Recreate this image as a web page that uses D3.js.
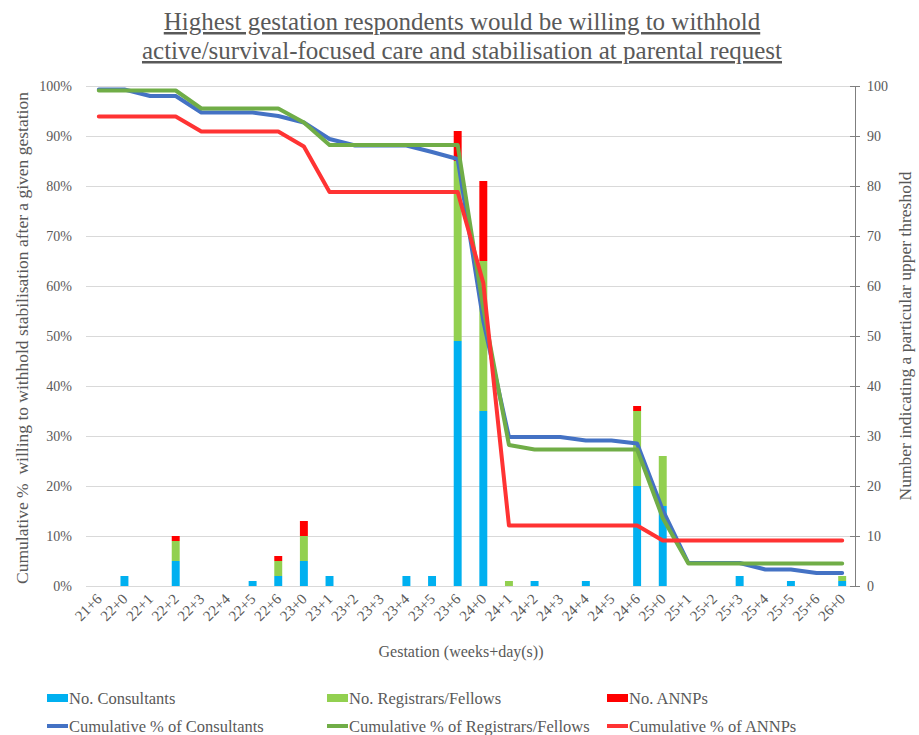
<!DOCTYPE html>
<html>
<head>
<meta charset="utf-8">
<script src="https://cdn.jsdelivr.net/npm/d3@7"></script>
<style>
  body { margin: 0; background: #fff; }
  svg text { font-family: "Liberation Serif", "Times New Roman", Times, serif; fill: #595959; }
</style>
</head>
<body>
<div id="chart"></div>
<script>
// gestation categories
var gestations = ["21+6","22+0","22+1","22+2","22+3","22+4","22+5","22+6",
  "23+0","23+1","23+2","23+3","23+4","23+5","23+6",
  "24+0","24+1","24+2","24+3","24+4","24+5","24+6",
  "25+0","25+1","25+2","25+3","25+4","25+5","25+6","26+0"];

// counts (right axis)
var noConsultants = [0,2,0,5,0,0,1,2,5,2,0,0,2,2,49,35,0,1,0,1,0,20,16,0,0,2,0,1,0,1];
var noRegistrars  = [0,0,0,4,0,0,0,3,5,0,0,0,0,0,36,30,1,0,0,0,0,15,10,0,0,0,0,0,0,1];
var noANNPs       = [0,0,0,1,0,0,0,1,3,0,0,0,0,0,6,16,0,0,0,0,0,1,0,0,0,0,0,0,0,0];

// cumulative % (left axis)
var cumConsultants = [99.3,99.3,98.0,98.0,94.7,94.7,94.7,94.0,92.7,89.4,88.1,88.1,88.1,86.8,85.4,
  53.0,29.8,29.8,29.8,29.1,29.1,28.5,15.2,4.6,4.6,4.6,3.3,3.3,2.6,2.6];
var cumRegistrars = [99.1,99.1,99.1,99.1,95.5,95.5,95.5,95.5,92.7,88.2,88.2,88.2,88.2,88.2,88.2,
  55.5,28.2,27.3,27.3,27.3,27.3,27.3,13.6,4.5,4.5,4.5,4.5,4.5,4.5,4.5];
var cumANNPs = [93.9,93.9,93.9,93.9,90.9,90.9,90.9,90.9,87.9,78.8,78.8,78.8,78.8,78.8,78.8,
  60.6,12.1,12.1,12.1,12.1,12.1,12.1,9.1,9.1,9.1,9.1,9.1,9.1,9.1,9.1];

var pctTicks = [0,10,20,30,40,50,60,70,80,90,100];
var numTicks = [0,10,20,30,40,50,60,70,80,90,100];

var W = 919, H = 735;
var mLeft = 86, mRight = 855, mTop = 86, mBottom = 586;

var svg = d3.select("#chart").append("svg")
    .attr("width", W)
    .attr("height", H);

var x = d3.scaleBand().domain(gestations).range([mLeft, mRight]).paddingInner(0.69).paddingOuter(0.345);
var xc = d3.scaleBand().domain(gestations).range([mLeft, mRight]);
var yPct = d3.scaleLinear().domain([0, 100]).range([mBottom, mTop]);
var yNum = d3.scaleLinear().domain([0, 100]).range([mBottom, mTop]);

// title
var title = svg.append("text")
    .attr("x", 462)
    .attr("text-anchor", "middle")
    .style("font-size", "25px")
    .style("text-decoration", "underline");
title.append("tspan").attr("x", 462).attr("y", 30).text("Highest gestation respondents would be willing to withhold");
title.append("tspan").attr("x", 462).attr("y", 59).text("active/survival-focused care and stabilisation at parental request");

// gridlines
svg.append("g")
    .selectAll("line")
    .data(pctTicks)
    .enter()
    .append("line")
    .attr("x1", mLeft)
    .attr("x2", mRight)
    .attr("y1", d => yPct(d) + 0.5)
    .attr("y2", d => yPct(d) + 0.5)
    .attr("stroke", "#d9d9d9")
    .attr("stroke-width", 1);

// left axis labels
svg.append("g")
    .attr("transform", `translate(${mLeft},0)`)
    .call(d3.axisLeft(yPct).tickValues(pctTicks).tickFormat(d => d + "%").tickSize(0).tickPadding(14))
    .call(g => g.select(".domain").remove())
    .selectAll("text")
    .style("font-size", "14px");

// right axis
var rAxis = svg.append("g")
    .attr("transform", `translate(${mRight},0)`)
    .call(d3.axisRight(yNum).tickValues(numTicks).tickSize(5).tickPadding(7));
rAxis.select(".domain").attr("stroke", "#7f7f7f").attr("d", `M0.5,${mTop}V${mBottom + 0.5}`);
rAxis.selectAll(".tick line").attr("stroke", "#7f7f7f").attr("x1", -5).attr("x2", 5);
rAxis.selectAll("text").style("font-size", "14px").attr("fill", "#595959");

// stacked bars
var barData = gestations.map((g, i) => ({ g: g, c: noConsultants[i], r: noRegistrars[i], a: noANNPs[i] }));
var stack = d3.stack().keys(["c", "r", "a"]);
var stacked = stack(barData);
var barColor = { c: "#00b0f0", r: "#92d050", a: "#ff0000" };

svg.append("g")
    .selectAll("g")
    .data(stacked)
    .enter()
    .append("g")
    .attr("fill", d => barColor[d.key])
    .selectAll("rect")
    .data(d => d)
    .enter()
    .append("rect")
    .attr("x", d => x(d.data.g))
    .attr("y", d => yNum(d[1]))
    .attr("height", d => yNum(d[0]) - yNum(d[1]))
    .attr("width", x.bandwidth());

// cumulative lines
var lineGen = d3.line()
    .x((d, i) => xc(gestations[i]) + xc.bandwidth() / 2)
    .y(d => yPct(d));

var lines = [
  { vals: cumConsultants, color: "#4472c4" },
  { vals: cumRegistrars, color: "#70ad47" },
  { vals: cumANNPs, color: "#ff3333" }
];
lines.forEach(function (l) {
  svg.append("path")
      .datum(l.vals)
      .attr("d", lineGen)
      .attr("fill", "none")
      .attr("stroke", l.color)
      .attr("stroke-width", 4)
      .attr("stroke-linejoin", "round")
      .attr("stroke-linecap", "round");
});

// x tick labels
svg.append("g")
    .selectAll("text")
    .data(gestations)
    .enter()
    .append("text")
    .attr("text-anchor", "end")
    .style("font-size", "15px")
    .attr("transform", d => `translate(${xc(d) + xc.bandwidth() / 2 + 4},${mBottom + 14}) rotate(-45)`)
    .text(d => d);

// axis titles
svg.append("text")
    .attr("x", 461)
    .attr("y", 657)
    .attr("text-anchor", "middle")
    .style("font-size", "16px")
    .text("Gestation (weeks+day(s))");

svg.append("text")
    .attr("transform", `translate(28,${(mTop + mBottom) / 2 + 2}) rotate(-90)`)
    .attr("text-anchor", "middle")
    .style("font-size", "17.5px")
    .style("white-space", "pre")
    .text("Cumulative %  willing to withhold stabilisation after a given gestation");

svg.append("text")
    .attr("transform", `translate(911,${(mTop + mBottom) / 2}) rotate(-90)`)
    .attr("text-anchor", "middle")
    .style("font-size", "17.5px")
    .text("Number indicating a particular upper threshold");

// legend
var legendItems = [
  { label: "No. Consultants", color: "#00b0f0", type: "bar", lx: 47, ly: 698 },
  { label: "No. Registrars/Fellows", color: "#92d050", type: "bar", lx: 327, ly: 698 },
  { label: "No. ANNPs", color: "#ff0000", type: "bar", lx: 607, ly: 698 },
  { label: "Cumulative % of Consultants", color: "#4472c4", type: "line", lx: 47, ly: 726 },
  { label: "Cumulative % of Registrars/Fellows", color: "#70ad47", type: "line", lx: 327, ly: 726 },
  { label: "Cumulative % of ANNPs", color: "#ff3333", type: "line", lx: 607, ly: 726 }
];
var leg = svg.append("g")
    .selectAll("g")
    .data(legendItems)
    .enter()
    .append("g")
    .attr("transform", d => `translate(${d.lx},${d.ly})`);
leg.append("rect")
    .attr("x", 0)
    .attr("width", 21)
    .attr("y", d => d.type === "bar" ? -4 : -2)
    .attr("height", d => d.type === "bar" ? 8 : 4)
    .attr("fill", d => d.color);
leg.append("text")
    .attr("x", 22)
    .attr("y", 5.5)
    .style("font-size", "16.5px")
    .text(d => d.label);
</script>
</body>
</html>
